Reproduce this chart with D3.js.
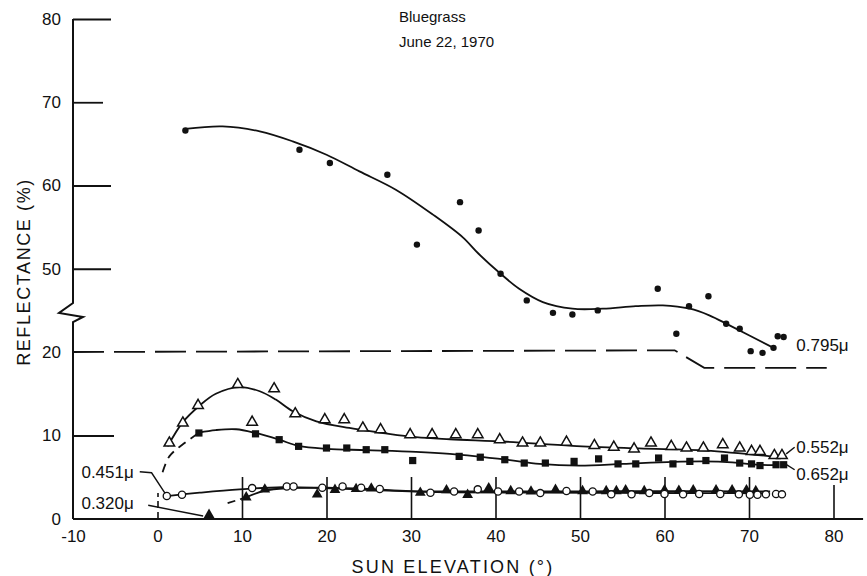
<!DOCTYPE html>
<html>
<head>
<meta charset="utf-8">
<script src="https://cdn.jsdelivr.net/npm/d3@7"></script>
<style>
body{margin:0;background:#fff;}
text{font-family:"Liberation Sans",Arial,sans-serif;fill:#111;}
</style>
</head>
<body>
<div id="chart"></div>
<script>
// ticks
var xTicks = [-10,0,10,20,30,40,50,60,70,80];
var yTicksLow = [0,10,20];
var yTicksHigh = [50,60,70,80];

// 0.795 micron (upper scale, filled dots) [sun elevation, reflectance]
var pts795 = [[3.3,66.6],[16.8,64.3],[20.4,62.7],[27.2,61.3],[30.7,52.9],[35.8,58.0],[38.0,54.6],
    [40.6,49.4],[43.7,46.2],[46.8,44.7],[49.1,44.5],[52.1,45.0],[59.2,47.6],[61.4,42.2],[62.9,45.5],
    [65.2,46.7],[67.3,43.4],[68.9,42.8],[70.2,40.1],[71.6,39.9],[72.9,40.5],[73.4,41.9],[74.1,41.8]];
var curve795 = [[3.3,66.8],[7.7,67.1],[12.1,66.5],[16,65.3],[20,63.7],[23.9,61.7],[28.2,59.5],
    [32.6,56.5],[36.1,53.8],[38.0,51.8],[40.6,49.4],[42.8,47.6],[45.6,46.0],[49.1,45.2],[52.7,45.2],
    [56.6,45.5],[59.8,45.6],[63,45.2],[65.3,44.4],[67.7,43.2],[72.9,40.5]];
// dashed line near 20 %
var dash20 = [[-10,20],[61.2,20.2],[64.7,18.1],[79.2,18.1]];

// 0.552 micron (open triangles)
var pts552 = [[1.4,9.1],[3.0,11.5],[4.8,13.6],[9.5,16.1],[11.2,11.6],[13.8,15.6],[16.3,12.6],[19.8,11.9],
    [22.1,11.9],[24.3,10.9],[26.4,10.7],[29.9,10.1],[32.5,10.1],[35.3,10.1],[37.9,10.1],[40.5,9.5],
    [43.2,9.1],[45.3,9.1],[48.4,9.2],[51.7,8.8],[54.0,8.6],[56.4,8.4],[58.4,9.1],[60.8,8.7],[62.6,8.5],
    [64.6,8.5],[66.9,8.9],[68.9,8.5],[70.3,8.1],[71.3,8.1],[73.0,7.6],[73.9,7.6]];
var curve552 = [[1.2,8.7],[3.0,11.6],[5,13.6],[6.9,15.0],[9.7,15.8],[12.1,15.3],[14,14.3],[16,12.9],
    [18.8,11.7],[22.7,10.9],[26.7,10.3],[30.6,9.8],[34.6,9.55],[41.3,9.25],[49.1,8.75],[57,8.45],
    [64.9,8.2],[72.6,7.5]];

// 0.652 micron (filled squares)
var pts652 = [[4.9,10.3],[11.6,10.2],[14.4,9.5],[16.7,8.7],[20.0,8.5],[22.4,8.5],[24.7,8.3],[26.9,8.3],
    [30.2,7.0],[35.7,7.5],[38.2,7.4],[41.1,7.1],[43.4,6.7],[45.9,6.7],[49.3,6.9],[52.2,7.2],[54.5,6.6],
    [56.6,6.6],[59.3,7.3],[61.0,6.6],[63.0,6.9],[64.9,7.0],[67.1,7.3],[68.9,6.7],[70.3,6.6],[71.3,6.4],
    [73.2,6.5],[74.1,6.5]];
var curve652 = [[4.9,10.35],[6.9,10.65],[9.3,10.75],[11.6,10.3],[14.4,9.5],[16.7,8.75],[20,8.4],
    [24.7,8.25],[30.6,8.05],[34.6,7.8],[41.3,7.1],[45.2,6.6],[49.9,6.4],[55.1,6.6],[61,6.85],
    [66.9,6.85],[71.2,6.5],[73,6.45]];
var dash652 = [[0.6,5.6],[1.4,7.5],[3.2,9.1],[4.9,10.3]];

// 0.451 micron (open circles)
var pts451 = [[1.1,2.75],[2.9,2.9],[11.2,3.7],[15.3,3.9],[16.1,3.9],[19.5,3.75],[21.9,3.9],[24.1,3.75],
    [26.3,3.6],[32.3,3.15],[35.1,3.3],[37.9,3.55],[40.3,3.3],[42.8,3.3],[45.3,3.1],[48.4,3.35],[51.5,3.3],
    [53.7,2.95],[56.1,2.95],[58.2,3.1],[60.0,3.0],[62.2,2.95],[64.1,3.0],[66.6,3.0],[68.8,2.95],
    [70.1,2.9],[71.0,2.9],[72.0,2.95],[73.2,3.0],[73.9,2.95]];
var curve451 = [[1.1,2.75],[5,3.15],[9.7,3.55],[14.8,3.8],[19.6,3.7],[24.7,3.5],[29.8,3.3],[34.6,3.2],
    [45,3.15],[55,3.12],[65,3.1],[72.5,3.08]];

// 0.320 micron (filled triangles)
var pts320 = [[6.1,0.5],[10.5,2.6],[12.7,3.55],[18.9,2.95],[21.0,3.5],[23.5,3.6],[25.3,3.65],[31.1,3.15],
    [34.2,3.45],[36.7,2.9],[39.2,3.7],[41.8,3.35],[44.2,3.3],[47.1,3.5],[50.3,3.35],[53.1,3.35],
    [54.3,3.35],[55.4,3.45],[57.6,3.35],[60.0,3.45],[61.7,3.4],[63.4,3.45],[66.1,3.45],[68.0,3.45],
    [69.7,3.45],[70.8,3.35]];
var curve320 = [[10.5,2.6],[12.7,3.4],[15.5,3.7],[20,3.75],[25,3.6],[30,3.35],[40,3.3],[50,3.3],
    [60,3.35],[70,3.3],[72.5,3.3]];
var dash320 = [[8.3,1.9],[10.5,2.6]];

function main(){
    buildChart();
}

function buildChart(){
    var width = 867, height = 576;

    var svg = d3.select("#chart")
        .append("svg")
            .attr("width", width)
            .attr("height", height);

    var xScale = d3.scaleLinear().domain([-10,80]).range([73,833.5]);
    var yLow = d3.scaleLinear().domain([0,20]).range([519,352]);
    var yHigh = d3.scaleLinear().domain([40,80]).range([352,19]);

    // x axis
    var xAxis = svg.append("g")
        .attr("transform","translate(0," + yLow(0) + ")")
        .call(d3.axisBottom(xScale).tickValues(xTicks).tickSize(-42).tickPadding(11)
            .tickFormat(function(d){ return String(d); }));
    xAxis.select(".domain").remove();
    xAxis.attr("font-size",17);
    xAxis.selectAll(".tick line")
        .attr("stroke","#111").attr("stroke-width",1.6)
        .attr("y2", function(d){ return d == 80 ? -34 : (d == 0 ? -26 : (d == -10 ? 0 : -42)); })
        .attr("stroke-dasharray", function(d){ return d == 0 ? "7,4" : null; });

    svg.append("line")
        .attr("x1", xScale(-10)).attr("x2", xScale(83.5))
        .attr("y1", yLow(0)).attr("y2", yLow(0))
        .attr("stroke","#111").attr("stroke-width",2);

    // y axes (broken)
    var yHighAxis = svg.append("g")
        .attr("transform","translate(" + xScale(-10) + ",0)")
        .call(d3.axisLeft(yHigh).tickValues(yTicksHigh).tickSize(-38).tickPadding(12));
    yHighAxis.select(".domain").remove();
    yHighAxis.attr("font-size",17);
    yHighAxis.selectAll(".tick line").attr("stroke","#111").attr("stroke-width",1.8)
        .attr("x2", function(d){ return d == 70 ? 30 : 38; });

    var yLowAxis = svg.append("g")
        .attr("transform","translate(" + xScale(-10) + ",0)")
        .call(d3.axisLeft(yLow).tickValues(yTicksLow).tickSize(-41).tickPadding(12));
    yLowAxis.select(".domain").remove();
    yLowAxis.attr("font-size",17);
    yLowAxis.selectAll(".tick line").attr("stroke","#111").attr("stroke-width",1.8)
        .attr("x2", function(d){ return d == 10 ? 41 : 0; });

    var ax = xScale(-10);
    svg.append("path")
        .attr("d", "M" + ax + "," + yHigh(80) + "V303L" + (ax-14) + ",313L" + (ax+10) + ",317L" + ax + ",322V" + yLow(0))
        .attr("fill","none").attr("stroke","#111").attr("stroke-width",2);

    var lineLow = d3.line()
        .x(function(d){ return xScale(d[0]); })
        .y(function(d){ return yLow(d[1]); })
        .curve(d3.curveCatmullRom.alpha(0.5));
    var lineHigh = d3.line()
        .x(function(d){ return xScale(d[0]); })
        .y(function(d){ return yHigh(d[1]); })
        .curve(d3.curveCatmullRom.alpha(0.5));
    var straight = d3.line()
        .x(function(d){ return xScale(d[0]); })
        .y(function(d){ return yLow(d[1]); });

    function drawCurve(path, dash, w){
        svg.append("path")
            .attr("d", path)
            .attr("fill","none")
            .attr("stroke","#111")
            .attr("stroke-width", w || 1.8)
            .attr("stroke-dasharray", dash || null);
    }

    drawCurve(lineHigh(curve795));
    drawCurve(straight(dash20), "31,10", 1.8);
    drawCurve(lineLow(curve552));
    drawCurve(lineLow(curve652));
    drawCurve(lineLow(dash652), "9,6");
    drawCurve(lineLow(curve451));
    drawCurve(lineLow(curve320));
    drawCurve(straight(dash320), "8,5");

    // markers
    svg.selectAll(".p795").data(pts795).enter().append("circle")
        .attr("cx", function(d){ return xScale(d[0]); })
        .attr("cy", function(d){ return yHigh(d[1]); })
        .attr("r", 3.2).attr("fill","#111");

    svg.selectAll(".p552").data(pts552).enter().append("path")
        .attr("d", d3.symbol().type(d3.symbolTriangle).size(48))
        .attr("transform", function(d){ return "translate(" + xScale(d[0]) + "," + yLow(d[1]) + ")"; })
        .attr("fill","#fff").attr("stroke","#111").attr("stroke-width",1.5);

    svg.selectAll(".p652").data(pts652).enter().append("path")
        .attr("d", d3.symbol().type(d3.symbolSquare).size(52))
        .attr("transform", function(d){ return "translate(" + xScale(d[0]) + "," + yLow(d[1]) + ")"; })
        .attr("fill","#111");

    svg.selectAll(".p320").data(pts320).enter().append("path")
        .attr("d", d3.symbol().type(d3.symbolTriangle).size(50))
        .attr("transform", function(d){ return "translate(" + xScale(d[0]) + "," + yLow(d[1]) + ")"; })
        .attr("fill","#111");

    svg.selectAll(".p451").data(pts451).enter().append("circle")
        .attr("cx", function(d){ return xScale(d[0]); })
        .attr("cy", function(d){ return yLow(d[1]); })
        .attr("r", 3.6).attr("fill","#fff").attr("stroke","#111").attr("stroke-width",1.3);

    // labels and leaders
    drawCurve(straight([[-2.1,5.66],[-0.7,5.54],[0.9,3.08]]), null, 1.4);
    drawCurve(straight([[-1.1,1.64],[5.4,0.36]]), null, 1.4);
    drawCurve(straight([[74.4,7.8],[75.4,8.6]]), null, 1.4);
    drawCurve(straight([[74.3,6.6],[75.4,5.9]]), null, 1.4);

    var labels = [
        {t:"0.795\u03bc", x:75.6, y:20.1, a:"start"},
        {t:"0.552\u03bc", x:75.6, y:7.95, a:"start"},
        {t:"0.652\u03bc", x:75.6, y:4.7, a:"start"},
        {t:"0.451\u03bc", x:-9.0, y:4.9, a:"start"},
        {t:"0.320\u03bc", x:-9.0, y:1.2, a:"start"}
    ];
    svg.selectAll(".lab").data(labels).enter().append("text")
        .attr("x", function(d){ return xScale(d.x); })
        .attr("y", function(d){ return yLow(d.y); })
        .attr("text-anchor", function(d){ return d.a; })
        .attr("font-size", 17)
        .text(function(d){ return d.t; });

    svg.append("text").attr("x",399).attr("y",22).attr("font-size",15).text("Bluegrass");
    svg.append("text").attr("x",399).attr("y",47).attr("font-size",15).text("June 22, 1970");

    svg.append("text")
        .attr("x", 453).attr("y", 573)
        .attr("text-anchor","middle")
        .attr("font-size",18)
        .attr("letter-spacing",2.2)
        .text("SUN ELEVATION (\u00b0)");

    svg.append("text")
        .attr("transform","translate(30,272)rotate(-90)")
        .attr("text-anchor","middle")
        .attr("font-size",18)
        .attr("letter-spacing",1.6)
        .text("REFLECTANCE (%)");
}

main();
</script>
</body>
</html>
